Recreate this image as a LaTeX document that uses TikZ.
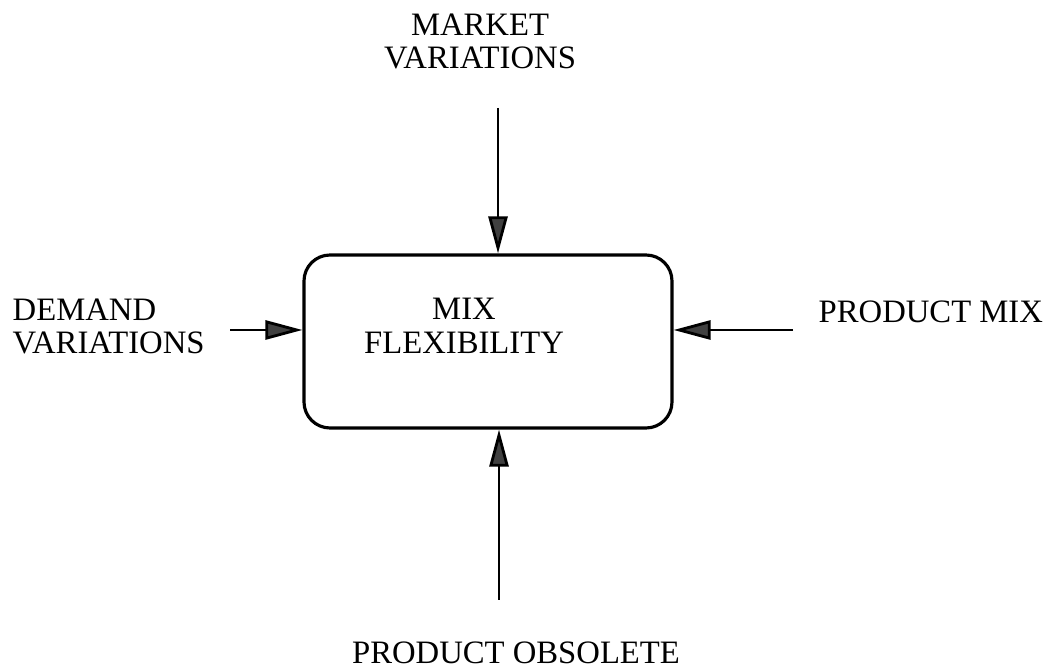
\documentclass[tikz,border=0pt]{standalone}
\usepackage{fontspec}
\setmainfont{Liberation Serif}
\usetikzlibrary{arrows.meta}
\begin{document}
\begin{tikzpicture}[x=0.1mm,y=-0.1mm,
  lbl/.style={inner sep=0pt,font=\fontsize{9.3pt}{9.6pt}\selectfont},
  flow/.style={line width=0.8pt,-{Triangle[length=3.7mm,width=1.9mm,fill=black!75]}}]
\useasboundingbox (0,0) rectangle (1050,670);
\node[draw,line width=0.9pt,rounded corners=2.6mm,minimum width=3.68cm,minimum height=1.73cm] (box) at (488,341.5) {};
\node[lbl,align=center] (mix) at (464,325.5) {MIX\\FLEXIBILITY};
\node[lbl,align=center] (market) at (480,41.5) {MARKET\\VARIATIONS};
\node[lbl,align=left,anchor=west] (demand) at (12,326.5) {DEMAND\\VARIATIONS};
\node[lbl,anchor=west] (prodmix) at (818,312) {PRODUCT MIX};
\node[lbl] (obsolete) at (516,653) {PRODUCT OBSOLETE};

\coordinate (mktin) at (498,108);
\coordinate (demin) at (230,330);
\coordinate (mixin) at (793,330);
\coordinate (obsin) at (499,600);

\draw[flow] (mktin) -- (mktin |- box.north);
\draw[flow] (demin) -- (demin -| box.west);
\draw[flow] (mixin) -- (mixin -| box.east);
\draw[flow] (obsin) -- (obsin |- box.south);
\end{tikzpicture}
\end{document}
